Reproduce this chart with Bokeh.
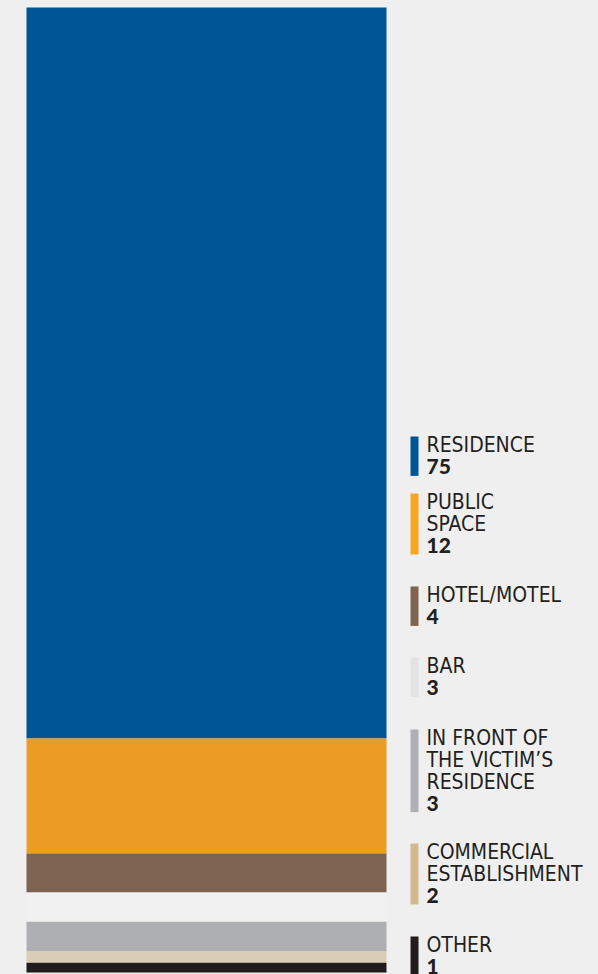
from bokeh.plotting import figure
from bokeh.models import Range1d, ColumnDataSource
from bokeh.core.properties import value
from bokeh.embed import file_html
from bokeh.resources import INLINE

# ---- data ----
categories = ["RESIDENCE", "PUBLIC\nSPACE", "HOTEL/MOTEL", "BAR",
              "IN FRONT OF\nTHE VICTIM\u2019S\nRESIDENCE", "COMMERCIAL\nESTABLISHMENT", "OTHER"]
label_values = ["75", "12", "4", "3", "3", "2", "1"]
segment_sizes = [75, 11.8, 4, 3, 3, 1.2, 1.0]   # heights as drawn in the picture
bar_colors = ["#005596", "#eb9c23", "#7e6351", "#f0f0f0", "#aeafb2", "#dacdb6", "#201c1b"]
swatch_colors = ["#005596", "#f6a623", "#7e6351", "#e2e3e4", "#aeafb2", "#d3b88c", "#201c1b"]

# ---- layout ----
W, H = 598, 974
BG = "#efefef"
TEXT = "#231f20"
bar_top_px = 7
px_per_unit = (738 - bar_top_px) / 75
bar_left, bar_right = 26, 386
sw_left, sw_right = 410, 418
text_x = 426
legend_tops = [436, 493, 586, 657, 729, 843, 936]
first_base = 17.3
text_shift = -8.5
line_h = 21.6

p = figure(width=W, height=H, output_backend="svg", toolbar_location=None,
           x_range=Range1d(0, W), y_range=Range1d(H, 0),
           min_border=0, min_border_left=0, min_border_right=0,
           min_border_top=0, min_border_bottom=0)
p.extra_y_ranges = {"data": Range1d((H - bar_top_px) / px_per_unit, -bar_top_px / px_per_unit)}
p.xaxis.visible = False
p.yaxis.visible = False
p.grid.visible = False
p.outline_line_color = None
p.background_fill_color = BG
p.border_fill_color = BG

# stacked bar
tops, bottoms = [], []
acc = 0.0
for s in segment_sizes:
    tops.append(acc)
    acc += s
    bottoms.append(acc)
src = ColumnDataSource(dict(top=tops, bottom=bottoms, color=bar_colors))
p.quad(left=bar_left, right=bar_right, top="top", bottom="bottom",
       fill_color="color", line_color=None, source=src, y_range_name="data")

# legend
for cat, val, col, T in zip(categories, label_values, swatch_colors, legend_tops):
    lines = cat.split("\n")
    n = len(lines) + 1
    last_base = T + first_base + line_h * (n - 1)
    p.quad(left=sw_left, right=sw_right, top=T, bottom=last_base + 0.5,
           fill_color=col, line_color=None)
    for i, ln in enumerate(lines):
        p.text(x=[text_x], y=[T + first_base + line_h * i + text_shift], text=[ln],
               text_font=value("DejaVu Sans Condensed"), text_font_size="21px",
               text_color=TEXT, text_baseline="alphabetic", text_align="left")
    p.text(x=[text_x], y=[last_base + text_shift], text=[val],
           text_font=value("Lato Black"), text_font_style="bold", text_font_size="21px",
           text_color=TEXT, text_baseline="alphabetic", text_align="left")

html = file_html(p, INLINE)
html = html.replace("<head>", "<head><style>body{background:%s;}</style>" % BG, 1)
open("out.html", "w").write(html)
